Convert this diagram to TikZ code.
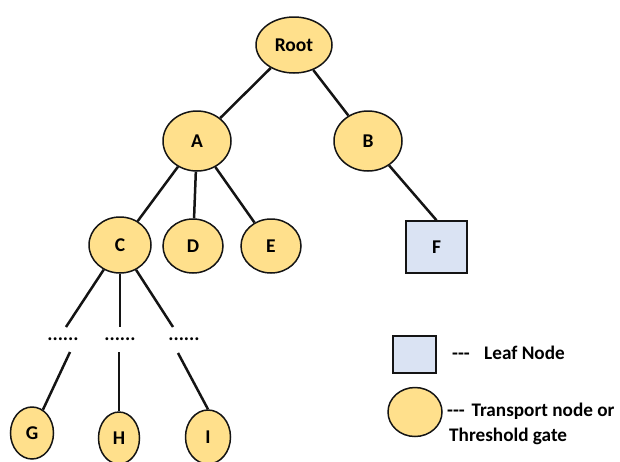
\documentclass[tikz,border=0pt]{standalone}
\usepackage{fontspec}
\setmainfont{Carlito}
\usetikzlibrary{shapes.geometric}
\definecolor{nodefill}{RGB}{255,224,140}
\definecolor{leaffill}{RGB}{218,227,243}
\definecolor{edgecol}{RGB}{20,20,20}
\begin{document}
\begin{tikzpicture}[x=1pt,y=-1pt,
  txt/.style={font=\bfseries\fontsize{19.5}{23}\selectfont},
  legtxt/.style={font=\bfseries\fontsize{19.2}{23}\selectfont},
  tnode/.style={ellipse, draw=edgecol, line width=1.5pt, fill=nodefill, inner sep=0pt, txt},
  leafbox/.style={rectangle, draw=edgecol, line width=1.5pt, fill=leaffill, inner sep=0pt, txt},
  conn/.style={line width=2.5pt, edgecol},
  lbl/.style={legtxt, anchor=west, inner sep=0pt},
  dotsnode/.style={txt, inner sep=0pt}]
\useasboundingbox (0,0) rectangle (620,461);
\clip (0,0) rectangle (620,461);

% tree nodes
\node[tnode, minimum width=76pt, minimum height=56pt] (root) at (294,45) {Root};
\node[tnode, minimum width=68pt, minimum height=60pt] (A) at (197,141) {A};
\node[tnode, minimum width=68pt, minimum height=60pt] (B) at (368,141) {B};
\node[tnode, minimum width=62pt, minimum height=56pt] (C) at (120,245) {C};
\node[tnode, minimum width=60pt, minimum height=54pt] (D) at (193,246) {D};
\node[tnode, minimum width=60pt, minimum height=54pt] (E) at (271,246) {E};
\node[leafbox, minimum width=61pt, minimum height=52pt] (F) at (436.5,247) {F};
\node[tnode, minimum width=43pt, minimum height=52pt] (G) at (32,433) {G};
\node[tnode, minimum width=41pt, minimum height=52pt] (H) at (119,438) {H};
\node[tnode, minimum width=45pt, minimum height=54pt] (I) at (208,437) {I};

% dots
\node[dotsnode] (d1) at (63,339) {......};
\node[dotsnode] (d2) at (120,339) {......};
\node[dotsnode] (d3) at (184,339) {......};

% connector free ends
\coordinate (c1) at (66,327);
\coordinate (c2) at (120,327);
\coordinate (c3) at (173,327);
\coordinate (g1) at (70,352);
\coordinate (h1) at (119,352);
\coordinate (i1) at (178,353);

% connectors
\draw[conn] (root) -- (A);
\draw[conn] (root) -- (B);
\draw[conn] (A) -- (C);
\draw[conn] (A) -- (D);
\draw[conn] (A) -- (E);
\draw[conn] (B) -- (F.north);
\draw[conn] (C) -- (c1);
\draw[conn] (C) -- (c2);
\draw[conn] (C) -- (c3);
\draw[conn] (g1) -- (G);
\draw[conn] (h1) -- (H.north);
\draw[conn] (i1) -- (I.north);

% legend
\node[leafbox, minimum width=43pt, minimum height=37pt] (legleaf) at (414.5,354.5) {};
\node[tnode, minimum width=54pt, minimum height=49pt] (legnode) at (415,412) {};
\node[lbl] (t1) at (452,353) {{-}{-}{-}\hspace{0.75em}Leaf Node};
\node[lbl] (t2) at (447,411) {{-}{-}{-}\hspace{0.35em}Transport node or};
\node[lbl] (t3) at (449,436) {Threshold gate};
\end{tikzpicture}
\end{document}
